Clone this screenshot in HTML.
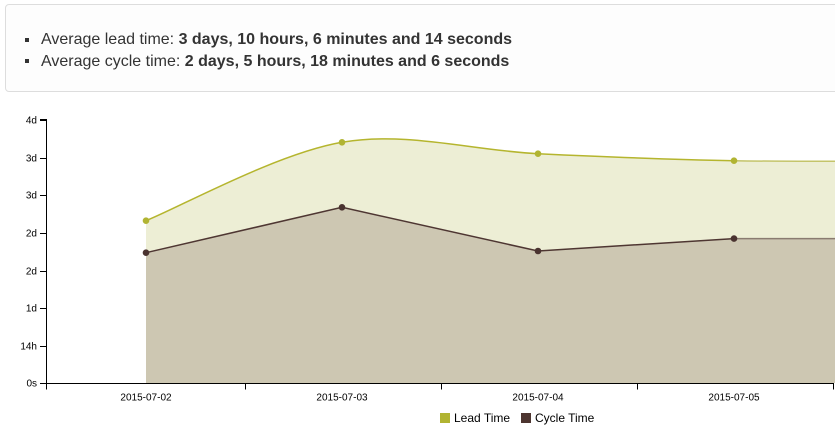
<!DOCTYPE html>
<html>
<head>
<meta charset="utf-8">
<style>
  html,body{margin:0;padding:0;background:#fff;}
  body{width:835px;height:427px;position:relative;overflow:hidden;font-family:"Liberation Sans",Arial,sans-serif;}
  .panel{position:absolute;left:5px;top:4px;width:840px;height:88px;border:1px solid #ddd;border-radius:4px;background:#fdfdfd;box-sizing:border-box;}
  .line{position:absolute;left:41px;font-size:16px;color:#333;white-space:nowrap;line-height:16px;}
  .bullet{position:absolute;left:25px;width:4px;height:4px;background:#333;}
  b{font-weight:bold;}
  svg{position:absolute;left:0;top:0;}
</style>
</head>
<body>
<div class="panel"></div>
<div class="bullet" style="top:38px"></div>
<div class="line" style="top:32px">Average lead time: <b>3 days, 10 hours, 6 minutes and 14 seconds</b></div>
<div class="bullet" style="top:59px"></div>
<div class="line" style="top:53.5px">Average cycle time: <b>2 days, 5 hours, 18 minutes and 6 seconds</b></div>

<svg width="835" height="427" viewBox="0 0 835 427" xmlns="http://www.w3.org/2000/svg">
  <!-- lead area -->
  <path d="M146,220.7 C178.7,207.7 276.7,153.5 342,142.3 C407.3,131.1 472.7,150.6 538,153.7 C603.3,156.8 668.7,159.5 734,160.7 C799.3,161.9 897.3,161 930,161 L930,383 L146,383 Z" fill="#edeed5"/>
  <!-- cycle area -->
  <path d="M146,252.7 L342,207.3 L538,251 L734,238.6 L930,238.6 L930,383 L146,383 Z" fill="#cdc7b2"/>
  <!-- lead line -->
  <path d="M146,220.7 C178.7,207.7 276.7,153.5 342,142.3 C407.3,131.1 472.7,150.6 538,153.7 C603.3,156.8 668.7,159.5 734,160.7" fill="none" stroke="#b5b52e" stroke-width="1.5"/>
  <path d="M734,160.7 C799.3,161.9 897.3,161 930,161" fill="none" stroke="#c4c46a" stroke-width="1.5"/>
  <!-- cycle line -->
  <path d="M146,252.7 L342,207.3 L538,251 L734,238.6" fill="none" stroke="#4e3632" stroke-width="1.5"/>
  <path d="M734,238.6 L930,238.6" fill="none" stroke="#8a7b70" stroke-width="1.5"/>
  <!-- markers -->
  <g fill="#b1b432">
    <circle cx="146" cy="220.7" r="3.3"/>
    <circle cx="342" cy="142.3" r="3.3"/>
    <circle cx="538" cy="153.7" r="3.3"/>
    <circle cx="734" cy="160.7" r="3.3"/>
  </g>
  <g fill="#4a3330">
    <circle cx="146" cy="252.7" r="3.3"/>
    <circle cx="342" cy="207.3" r="3.3"/>
    <circle cx="538" cy="251" r="3.3"/>
    <circle cx="734" cy="238.6" r="3.3"/>
  </g>

  <!-- y axis -->
  <g stroke="#000" stroke-width="1" fill="none" shape-rendering="crispEdges">
    <path d="M40,119.5 H46.5 V383.5 H40"/>
    <line x1="40" y1="120.5" x2="46" y2="120.5"/>
    <line x1="40" y1="158.5" x2="46" y2="158.5"/>
    <line x1="40" y1="195.5" x2="46" y2="195.5"/>
    <line x1="40" y1="233.5" x2="46" y2="233.5"/>
    <line x1="40" y1="271.5" x2="46" y2="271.5"/>
    <line x1="40" y1="308.5" x2="46" y2="308.5"/>
    <line x1="40" y1="346.5" x2="46" y2="346.5"/>
  </g>
  <g font-family="Liberation Sans, Arial, sans-serif" font-size="10" fill="#000" text-anchor="end">
    <text x="37" y="123.5">4d</text>
    <text x="37" y="161.5">3d</text>
    <text x="37" y="198.5">3d</text>
    <text x="37" y="236.5">2d</text>
    <text x="37" y="274.5">2d</text>
    <text x="37" y="311.5">1d</text>
    <text x="37" y="349.5">14h</text>
    <text x="37" y="386.5">0s</text>
  </g>

  <!-- x axis -->
  <g stroke="#000" stroke-width="1" fill="none" shape-rendering="crispEdges">
    <path d="M46.5,389.5 V383.5 H833.5 V389.5"/>
    <line x1="245.5" y1="383" x2="245.5" y2="389.5"/>
    <line x1="441.5" y1="383" x2="441.5" y2="389.5"/>
    <line x1="637.5" y1="383" x2="637.5" y2="389.5"/>
  </g>
  <g font-family="Liberation Sans, Arial, sans-serif" font-size="10" fill="#000" text-anchor="middle">
    <text x="146" y="400.5">2015-07-02</text>
    <text x="342" y="400.5">2015-07-03</text>
    <text x="538" y="400.5">2015-07-04</text>
    <text x="734" y="400.5">2015-07-05</text>
  </g>

  <!-- legend -->
  <rect x="440" y="413" width="10" height="10" fill="#b1b432"/>
  <text x="454" y="422" font-family="Liberation Sans, Arial, sans-serif" font-size="12" fill="#000">Lead Time</text>
  <rect x="521" y="413" width="10" height="10" fill="#4d3530"/>
  <text x="535" y="422" font-family="Liberation Sans, Arial, sans-serif" font-size="12" fill="#000">Cycle Time</text>
</svg>
</body>
</html>
